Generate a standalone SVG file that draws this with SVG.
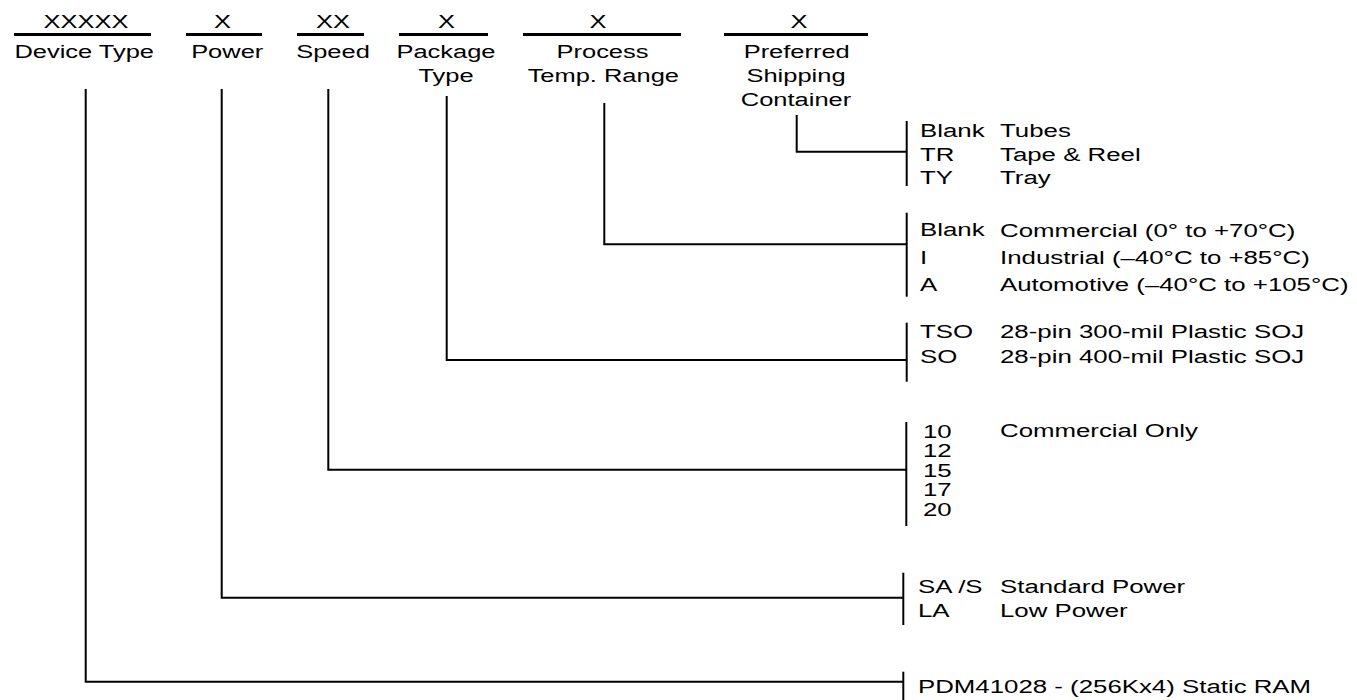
<svg xmlns="http://www.w3.org/2000/svg" width="1357" height="700" viewBox="0 0 1357 700">
<style>
  text { font-family: "Liberation Sans", Arial, Helvetica, sans-serif; font-size: 19px; fill: #000; }
  .m { text-anchor: middle; }
  .bar { stroke: #000; stroke-width: 2.8; fill: none; }
  .ln { stroke: #000; stroke-width: 2; fill: none; }
</style>
<rect width="1357" height="700" fill="#fff"/>

<g id="connectors">
  <polyline class="ln" points="85.7,89 85.7,681.7 903.3,681.7"/>
  <polyline class="ln" points="221.7,89 221.7,597.7 903.3,597.7"/>
  <polyline class="ln" points="328.3,89 328.3,469.8 906.3,469.8"/>
  <polyline class="ln" points="446.7,96 446.7,360 906.7,360"/>
  <polyline class="ln" points="604.3,103 604.3,244.3 906.7,244.3"/>
  <polyline class="ln" points="796.7,115 796.7,151.7 906.7,151.7"/>
</g>

<g id="field-device-type">
  <line class="bar" x1="14" y1="34.5" x2="151" y2="34.5"/>
  <text class="m" transform="translate(86,27.5) scale(1.34,1)">XXXXX</text>
  <text class="m" transform="translate(84.2,57.5) scale(1.34,1)">Device Type</text>
</g>
<g id="field-power">
  <line class="bar" x1="186" y1="34.5" x2="262" y2="34.5"/>
  <text class="m" transform="translate(222.5,27.5) scale(1.34,1)">X</text>
  <text class="m" transform="translate(227.2,57.5) scale(1.34,1)">Power</text>
</g>
<g id="field-speed">
  <line class="bar" x1="297" y1="34.5" x2="364" y2="34.5"/>
  <text class="m" transform="translate(333,27.5) scale(1.34,1)">XX</text>
  <text class="m" transform="translate(333,57.5) scale(1.34,1)">Speed</text>
</g>
<g id="field-package">
  <line class="bar" x1="399" y1="34.5" x2="488" y2="34.5"/>
  <text class="m" transform="translate(446.5,27.5) scale(1.34,1)">X</text>
  <text class="m" transform="translate(446,57.5) scale(1.34,1)">Package</text>
  <text class="m" transform="translate(446,81.5) scale(1.34,1)">Type</text>
</g>
<g id="field-process">
  <line class="bar" x1="523" y1="34.5" x2="681" y2="34.5"/>
  <text class="m" transform="translate(598,27.5) scale(1.34,1)">X</text>
  <text class="m" transform="translate(602.5,57.5) scale(1.34,1)">Process</text>
  <text class="m" transform="translate(603.3,81.5) scale(1.34,1)">Temp. Range</text>
</g>
<g id="field-shipping">
  <line class="bar" x1="724" y1="34.5" x2="868" y2="34.5"/>
  <text class="m" transform="translate(799,27.5) scale(1.34,1)">X</text>
  <text class="m" transform="translate(796.7,57.5) scale(1.34,1)">Preferred</text>
  <text class="m" transform="translate(796,81.5) scale(1.34,1)">Shipping</text>
  <text class="m" transform="translate(796,105.5) scale(1.34,1)">Container</text>
</g>

<g id="options-shipping">
  <line class="ln" x1="906.7" y1="121" x2="906.7" y2="186"/>
  <text transform="translate(920,136.5) scale(1.36,1)">Blank</text>
  <text transform="translate(1000,136.5) scale(1.36,1)">Tubes</text>
  <text transform="translate(920,160.5) scale(1.36,1)">TR</text>
  <text transform="translate(1000,160.5) scale(1.36,1)">Tape &amp; Reel</text>
  <text transform="translate(920,184) scale(1.36,1)">TY</text>
  <text transform="translate(1000,184) scale(1.36,1)">Tray</text>
</g>
<g id="options-temp">
  <line class="ln" x1="906.7" y1="212.7" x2="906.7" y2="296.7"/>
  <text transform="translate(920,235.5) scale(1.36,1)">Blank</text>
  <text transform="translate(1000,237) scale(1.36,1)">Commercial (0° to +70°C)</text>
  <text transform="translate(920,263.5) scale(1.36,1)">I</text>
  <text transform="translate(1000,263.5) scale(1.36,1)">Industrial (–40°C to +85°C)</text>
  <text transform="translate(920,291) scale(1.36,1)">A</text>
  <text transform="translate(1000,291) scale(1.36,1)">Automotive (–40°C to +105°C)</text>
</g>
<g id="options-package">
  <line class="ln" x1="906.7" y1="322.7" x2="906.7" y2="381.7"/>
  <text transform="translate(920,338) scale(1.36,1)">TSO</text>
  <text transform="translate(1000,338) scale(1.36,1)">28-pin 300-mil Plastic SOJ</text>
  <text transform="translate(920,362.5) scale(1.36,1)">SO</text>
  <text transform="translate(1000,362.5) scale(1.36,1)">28-pin 400-mil Plastic SOJ</text>
</g>
<g id="options-speed">
  <line class="ln" x1="906.3" y1="422" x2="906.3" y2="526"/>
  <text transform="translate(923,437.5) scale(1.36,1)">10</text>
  <text transform="translate(1000,436.5) scale(1.36,1)">Commercial Only</text>
  <text transform="translate(923,457.3) scale(1.36,1)">12</text>
  <text transform="translate(923,476.8) scale(1.36,1)">15</text>
  <text transform="translate(923,496.3) scale(1.36,1)">17</text>
  <text transform="translate(923,516) scale(1.36,1)">20</text>
</g>
<g id="options-power">
  <line class="ln" x1="903.3" y1="572.7" x2="903.3" y2="625"/>
  <text transform="translate(918,592.5) scale(1.36,1)">SA /S</text>
  <text transform="translate(1000,592.5) scale(1.36,1)">Standard Power</text>
  <text transform="translate(918,616.5) scale(1.36,1)">LA</text>
  <text transform="translate(1000,616.5) scale(1.36,1)">Low Power</text>
</g>
<g id="options-device">
  <line class="ln" x1="903.3" y1="671.7" x2="903.3" y2="700"/>
  <text transform="translate(918,693.3) scale(1.36,1)">PDM41028 - (256Kx4) Static RAM</text>
</g>
</svg>
